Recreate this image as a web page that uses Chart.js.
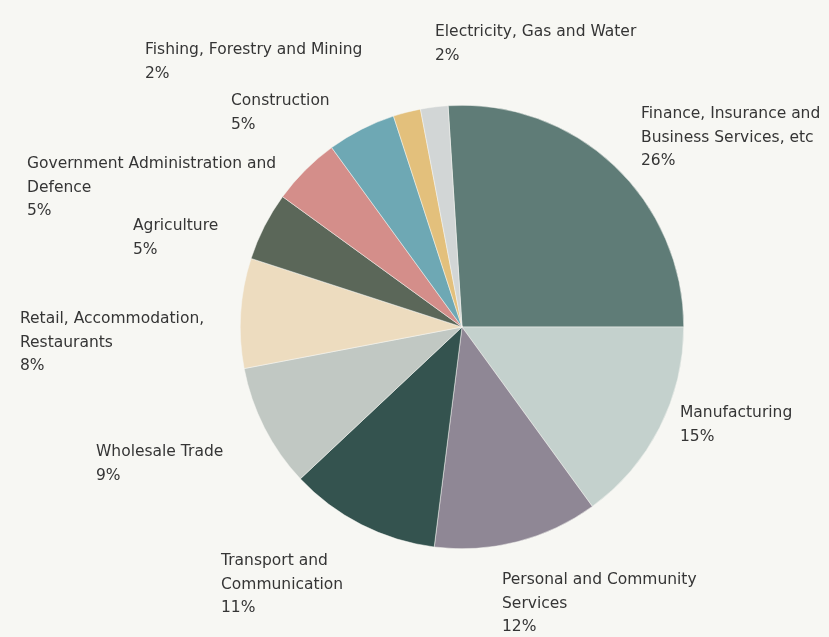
<!DOCTYPE html>
<html>
<head>
<meta charset="utf-8">
<script src="https://cdn.jsdelivr.net/npm/chart.js@4.4.1/dist/chart.umd.min.js"></script>
<style>
    html, body { margin: 0; padding: 0; background: #f7f7f3; }
    #wrap { width: 829px; height: 637px; }
</style>
</head>
<body>
<div id="wrap"><canvas id="sectors"></canvas></div>
<script>
// sectors, clockwise from the top
var sectors = [
    'Finance, Insurance and Business Services, etc',
    'Manufacturing',
    'Personal and Community Services',
    'Transport and Communication',
    'Wholesale Trade',
    'Retail, Accommodation, Restaurants',
    'Agriculture',
    'Government Administration and Defence',
    'Construction',
    'Fishing, Forestry and Mining',
    'Electricity, Gas and Water'
];
var shares = [26, 15, 12, 11, 9, 8, 5, 5, 5, 2, 2];

// how each label is broken over lines
var labelLines = [
    ['Finance, Insurance and', 'Business Services, etc'],
    ['Manufacturing'],
    ['Personal and Community', 'Services'],
    ['Transport and', 'Communication'],
    ['Wholesale Trade'],
    ['Retail, Accommodation,', 'Restaurants'],
    ['Agriculture'],
    ['Government Administration and', 'Defence'],
    ['Construction'],
    ['Fishing, Forestry and Mining'],
    ['Electricity, Gas and Water']
];

var colours = ['#5f7c77', '#c4d1cd', '#8f8795', '#34534f', '#c1c8c3', '#eddcbf',
               '#5b6759', '#d48e8a', '#6ea8b4', '#e3c07c', '#d2d6d6'];

// left edge and middle of first line of each label block (layout only)
var labelPos = [
    [641, 114], [680, 413], [502, 580], [221, 561], [96, 452], [20, 319],
    [133, 226], [27, 164], [231, 101], [145, 50], [435, 32]
];

/////////////////////////////////////////////////////////////////////////////

var background = {
    id: 'background',
    beforeDraw(chart) {
        let ctx = chart.ctx;
        ctx.save();
        ctx.fillStyle = '#f7f7f3';
        ctx.fillRect(0, 0, chart.width, chart.height);
        ctx.restore();
    }
};

var sectorLabels = {
    id: 'sectorLabels',
    afterDraw(chart) {
        let ctx = chart.ctx;
        ctx.save();
        ctx.font = '15.5px "DejaVu Sans", sans-serif';
        ctx.fillStyle = '#353535';
        ctx.textBaseline = 'middle';
        ctx.textAlign = 'left';
        chart.data.labels.forEach((lbl, i) => {
            let lines = labelLines[i].concat([shares[i] + '%']);
            let x = labelPos[i][0], y = labelPos[i][1];
            lines.forEach((t, j) => ctx.fillText(t, x, y + j * 23.5));
        });
        ctx.restore();
    }
};

document.addEventListener('DOMContentLoaded', function() {
    new Chart(document.getElementById('sectors'), {
        type: 'pie',
        data: {
            labels: sectors,
            datasets: [{
                data: shares,
                backgroundColor: colours,
                borderColor: '#f7f7f3',
                borderWidth: 0.5
            }]
        },
        options: {
            responsive: true,
            maintainAspectRatio: false,
            animation: false,
            rotation: -3.6,
            layout: { padding: { left: 240, right: 145, top: 105, bottom: 88 } },
            plugins: {
                legend: { display: false },
                tooltip: { enabled: false }
            }
        },
        plugins: [background, sectorLabels]
    });
});
</script>
</body>
</html>
